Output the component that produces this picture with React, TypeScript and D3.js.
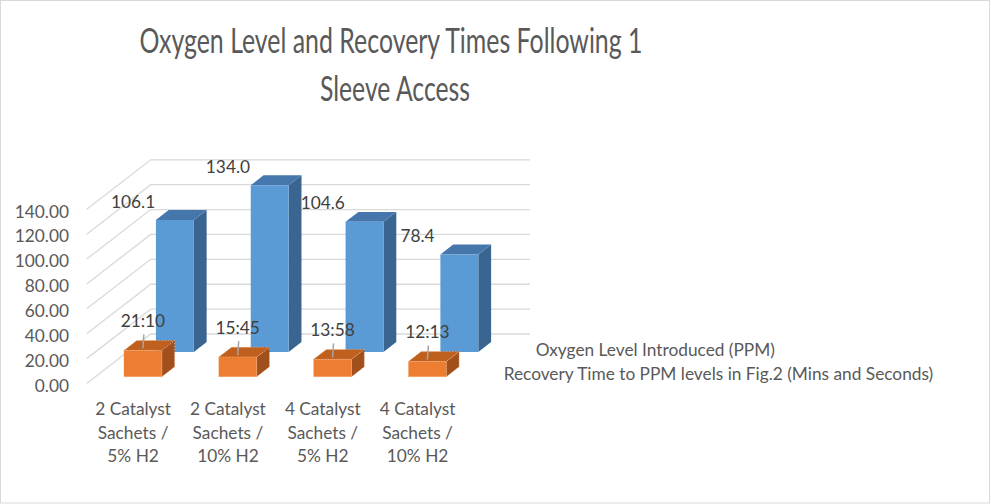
import React from "react";
import * as d3 from "d3";

const categoryLines: string[][] = [
  ["2 Catalyst", "Sachets /", "5% H2"],
  ["2 Catalyst", "Sachets /", "10% H2"],
  ["4 Catalyst", "Sachets /", "5% H2"],
  ["4 Catalyst", "Sachets /", "10% H2"],
];
const oxygenLevels = [106.1, 134.0, 104.6, 78.4];
const oxygenLabels = ["106.1", "134.0", "104.6", "78.4"];
const recoveryTimes = [21.17, 15.75, 13.97, 12.22];
const recoveryLabels = ["21:10", "15:45", "13:58", "12:13"];
const seriesNames = [
  "Oxygen Level Introduced (PPM)",
  "Recovery Time to PPM levels in Fig.2 (Mins and Seconds)",
];
const yTicks = [0, 20, 40, 60, 80, 100, 120, 140];
const titleLines = ["Oxygen Level and Recovery Times Following 1", "Sleeve Access"];

const W = 991;
const H = 504;
const FONT = "Lato, 'Open Sans', sans-serif";
const FS = 17.3;

// front plane & depth projection
const PX0 = 86.7;
const PX1 = 466;
const DX = 64;
const DY = -49.5;

const y = d3.scaleLinear().domain([0, 140]).range([383.5, 209.3]);
const x = d3
  .scaleBand<number>()
  .domain(d3.range(categoryLines.length))
  .range([PX0, PX1])
  .paddingInner(0.6)
  .paddingOuter(0.3);
// depth rows: 0 = front (recovery), 1 = back (oxygen)
const z = d3.scaleBand<number>().domain([0, 1]).range([-0.013, 0.987]).paddingInner(0.6).paddingOuter(0.3);

const proj = (px: number, v: number, d: number): [number, number] => [px + DX * d, y(v) + DY * d];
const poly = (pts: [number, number][]) => "M" + pts.map((p) => p.join(",")).join("L") + "Z";

const BLUE = { front: "#5B9BD5", side: "#3A6590", top: "#4677AC" };
const ORANGE = { front: "#ED7D31", side: "#A14F1B", top: "#C0601E" };

function Box({ i, v, row, col }: { i: number; v: number; row: number; col: typeof BLUE }) {
  const x0 = x(i)!;
  const x1 = x0 + x.bandwidth();
  const d0 = z(row)!;
  const d1 = d0 + z.bandwidth();
  const front = poly([proj(x0, 0, d0), proj(x1, 0, d0), proj(x1, v, d0), proj(x0, v, d0)]);
  const side = poly([proj(x1, 0, d0), proj(x1, 0, d1), proj(x1, v, d1), proj(x1, v, d0)]);
  const top = poly([proj(x0, v, d0), proj(x1, v, d0), proj(x1, v, d1), proj(x0, v, d1)]);
  const dotted = row === 0;
  const stroke = dotted ? "#F4B183" : "none";
  return (
    <g>
      <path d={side} fill={col.side} stroke={stroke} strokeWidth={0.8} strokeDasharray={dotted ? "1 2" : undefined} />
      <path d={top} fill={col.top} stroke={stroke} strokeWidth={0.8} strokeDasharray={dotted ? "1 2" : undefined} />
      <path d={front} fill={col.front} stroke={stroke} strokeWidth={0.8} strokeDasharray={dotted ? "1 2" : undefined} />
    </g>
  );
}

export default function App() {
  const backRow = 1;
  const frontRow = 0;
  return (
    <svg
      width={W}
      height={H}
      style={{ position: "absolute", left: 0, top: 0, background: "#fff" }}
      fontFamily={FONT}
    >
      <rect x={0.5} y={0.5} width={989} height={502.5} fill="#fff" stroke="#D9D9D9" strokeWidth={1} />

      {/* title */}
      <g fill="#595959" fontSize={34.5} textAnchor="middle">
        <text x={391} y={52.7} textLength={503} lengthAdjust="spacingAndGlyphs">
          {titleLines[0]}
        </text>
        <text x={395} y={101} textLength={150} lengthAdjust="spacingAndGlyphs">
          {titleLines[1]}
        </text>
      </g>

      {/* gridlines: side wall + back wall */}
      <g fill="none" stroke="#D9D9D9" strokeWidth={1.3}>
        {yTicks.map((t) => {
          const a = proj(PX0, t, 0);
          const b = proj(PX0, t, 1);
          const c = proj(PX1, t, 1);
          return <path key={t} d={`M${a.join(",")}L${b.join(",")}L${c.join(",")}`} />;
        })}
      </g>

      {/* y tick labels */}
      <g fill="#595959" fontSize={FS} textAnchor="end">
        {yTicks.map((t) => (
          <text key={t} x={69} y={y(t) + 1.7} dominantBaseline="central">
            {d3.format(".2f")(t)}
          </text>
        ))}
      </g>

      {/* back row bars (oxygen) */}
      {oxygenLevels.map((v, i) => (
        <Box key={"b" + i} i={i} v={v} row={backRow} col={BLUE} />
      ))}

      {/* front row bars (recovery) */}
      {recoveryTimes.map((v, i) => (
        <Box key={"o" + i} i={i} v={v} row={frontRow} col={ORANGE} />
      ))}

      {/* oxygen labels */}
      <g fill="#404040" fontSize={FS} textAnchor="middle">
        {oxygenLevels.map((v, i) => {
          const cx = x(i)! + x.bandwidth() / 2 - 1;
          const topBack = proj(0, v, z(backRow)! + z.bandwidth())[1];
          return (
            <text key={i} x={cx} y={topBack - 9} dominantBaseline="central">
              {oxygenLabels[i]}
            </text>
          );
        })}
      </g>

      {/* recovery labels with leader lines */}
      <g fill="#404040" fontSize={FS} textAnchor="middle">
        {recoveryTimes.map((v, i) => {
          const d0 = z(frontRow)!;
          const [fx, fy] = proj(x(i)! + x.bandwidth() / 2, v, d0);
          const ly = fy - 30;
          return (
            <g key={i}>
              <line x1={fx + 1} y1={ly + 14} x2={fx} y2={fy - 2} stroke="#A6A6A6" strokeWidth={1.5} />
              <text x={fx} y={ly} dominantBaseline="central">
                {recoveryLabels[i]}
              </text>
            </g>
          );
        })}
      </g>

      {/* category labels */}
      <g fill="#595959" fontSize={FS} textAnchor="middle">
        {categoryLines.map((lines, i) => (
          <text key={i} x={x(i)! + x.bandwidth() / 2 - 1} y={408} dominantBaseline="central">
            {lines.map((l, k) => (
              <tspan key={k} x={x(i)! + x.bandwidth() / 2 - 1} dy={k === 0 ? 0 : 23.5}>
                {l}
              </tspan>
            ))}
          </text>
        ))}
      </g>

      {/* series (depth) axis labels */}
      <g fill="#595959" fontSize={FS}>
        {[backRow, frontRow].map((row) => {
          const [sx, sy] = proj(PX1, 0, z(row)! + z.bandwidth() / 2);
          const name = row === backRow ? seriesNames[0] : seriesNames[1];
          return (
            <text key={row} x={sx + 22.5} y={sy + 2} dominantBaseline="central">
              {name}
            </text>
          );
        })}
      </g>
    </svg>
  );
}
